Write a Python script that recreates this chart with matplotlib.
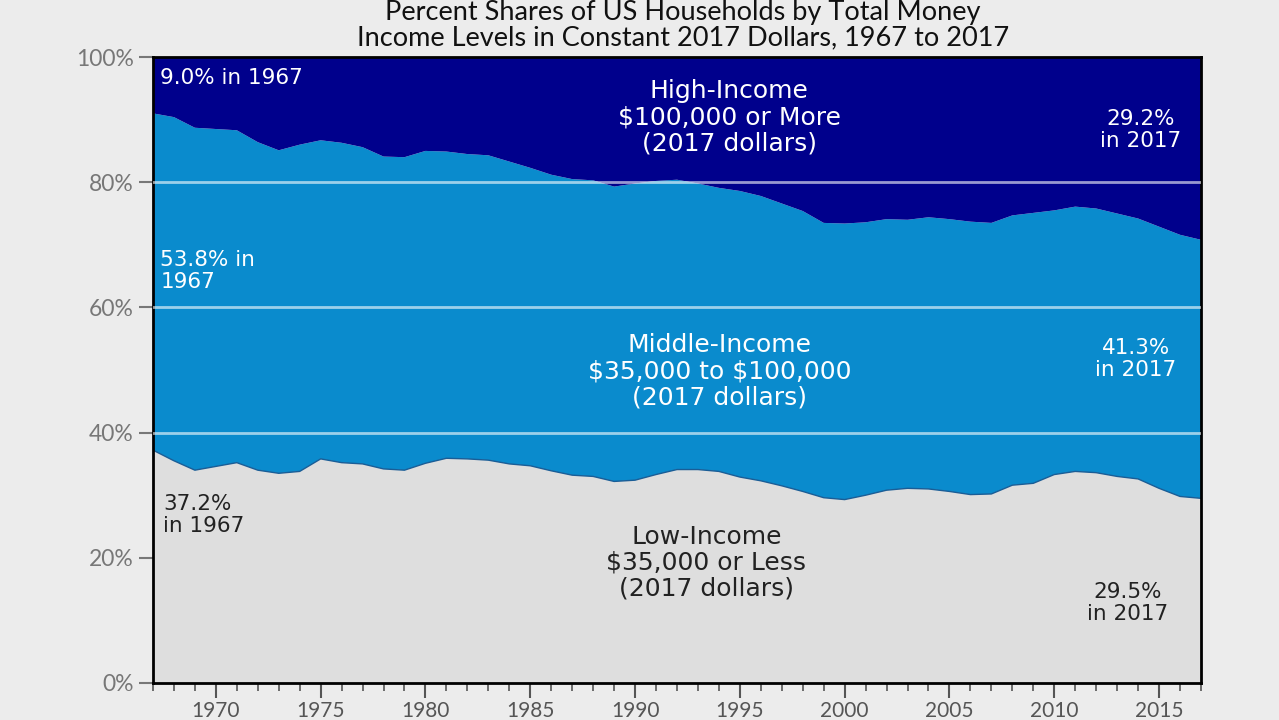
import numpy as np
import matplotlib
matplotlib.use("Agg")
import matplotlib.pyplot as plt
from matplotlib.ticker import MultipleLocator

# share of households by income group, percent
years = list(range(1967, 2018))
low_share = [37.2, 35.5, 34.0, 34.6, 35.2, 34.0, 33.5, 33.8, 35.8, 35.2,
             35.0, 34.2, 34.0, 35.1, 35.9, 35.8, 35.6, 35.0, 34.7, 33.9,
             33.2, 33.0, 32.2, 32.4, 33.3, 34.1, 34.1, 33.8, 32.9, 32.3,
             31.5, 30.6, 29.6, 29.3, 30.0, 30.8, 31.1, 31.0, 30.6, 30.1,
             30.2, 31.6, 31.9, 33.3, 33.8, 33.6, 33.0, 32.6, 31.1, 29.8,
             29.5]
high_share = [9.0, 9.6, 11.3, 11.5, 11.7, 13.6, 14.9, 14.0, 13.3, 13.7,
              14.4, 15.9, 16.0, 15.0, 15.1, 15.5, 15.7, 16.7, 17.7, 18.8,
              19.5, 19.7, 20.7, 20.2, 19.8, 19.6, 20.2, 20.9, 21.4, 22.2,
              23.4, 24.6, 26.5, 26.6, 26.4, 25.9, 26.0, 25.6, 25.9, 26.3,
              26.5, 25.3, 24.9, 24.5, 23.9, 24.2, 25.0, 25.8, 27.1, 28.4,
              29.2]
mid_share = [100 - lo - hi for lo, hi in zip(low_share, high_share)]

yticks = [0, 20, 40, 60, 80, 100]
ytick_labels = ["0%", "20%", "40%", "60%", "80%", "100%"]
xticks = list(range(1970, 2016, 5))

C_LOW = "#dedede"
C_MID = "#0a8bcd"
C_HIGH = "#00008c"
BG = "#ececec"

fig = plt.figure(figsize=(12.79, 7.20), dpi=100)
fig.patch.set_facecolor(BG)
ax = fig.add_axes([0.1196, 0.0514, 0.8194, 0.8694])

ax.stackplot(years, low_share, mid_share, high_share,
             colors=[C_LOW, C_MID, C_HIGH], linewidth=0)
ax.plot(years, low_share, color="#1a5d96", lw=1.0)

for g in [40, 60, 80]:
    ax.axhline(g, color="white", alpha=0.6, lw=2, zorder=3)

ax.set_xlim(1967, 2017)
ax.set_ylim(0, 100)
ax.set_yticks(yticks)
ax.set_yticklabels(ytick_labels)
ax.set_xticks(xticks)
ax.xaxis.set_minor_locator(MultipleLocator(1))

for s in ax.spines.values():
    s.set_color("black")
    s.set_linewidth(2)

ax.tick_params(axis="y", length=10, width=1.5, color="#777777",
               labelsize=16.5, labelcolor="#777777", pad=4)
ax.tick_params(axis="x", which="major", length=11, width=1.5, color="#555555",
               labelsize=15, labelcolor="#555555", pad=2)
ax.tick_params(axis="x", which="minor", length=6, width=1.2, color="#555555")
for lab in ax.get_xticklabels() + ax.get_yticklabels():
    lab.set_family("Lato")

fnt = "DejaVu Sans"
small = 15.5
big = 18
ax.text(1967.35, 96.6, "9.0% in 1967", color="white", fontsize=small, family=fnt,
        va="center", ha="left")
ax.text(1994.5, 90.4, "High-Income\n\\$100,000 or More\n(2017 dollars)", color="white",
        fontsize=big, family=fnt, ha="center", va="center", linespacing=1.1)
ax.text(2014.1, 88.3, "29.2%\nin 2017", color="white", fontsize=small, family=fnt,
        ha="center", va="center", linespacing=1.1)
ax.text(1967.35, 65.8, "53.8% in\n1967", color="white", fontsize=small, family=fnt,
        ha="left", va="center", linespacing=1.1)
ax.text(1994.05, 49.8, "Middle-Income\n\\$35,000 to \\$100,000\n(2017 dollars)",
        color="white", fontsize=big, family=fnt, ha="center", va="center",
        linespacing=1.1)
ax.text(2013.9, 51.8, "41.3%\nin 2017", color="white", fontsize=small, family=fnt,
        ha="center", va="center", linespacing=1.1)
ax.text(1967.5, 26.8, "37.2%\nin 1967", color="#222222", fontsize=small, family=fnt,
        ha="left", va="center", linespacing=1.1)
ax.text(1993.4, 19.2, "Low-Income\n\\$35,000 or Less\n(2017 dollars)", color="#222222",
        fontsize=big, family=fnt, ha="center", va="center", linespacing=1.1)
ax.text(2013.5, 12.8, "29.5%\nin 2017", color="#222222", fontsize=small, family=fnt,
        ha="center", va="center", linespacing=1.1)

fig.text(0.534, 0.982, "Percent Shares of US Households by Total Money",
         fontsize=19.5, family="Lato", ha="center", va="center", color="#111111")
fig.text(0.534, 0.947, "Income Levels in Constant 2017 Dollars, 1967 to 2017",
         fontsize=19.5, family="Lato", ha="center", va="center", color="#111111")

fig.savefig("out.png", dpi=100, facecolor=BG)
